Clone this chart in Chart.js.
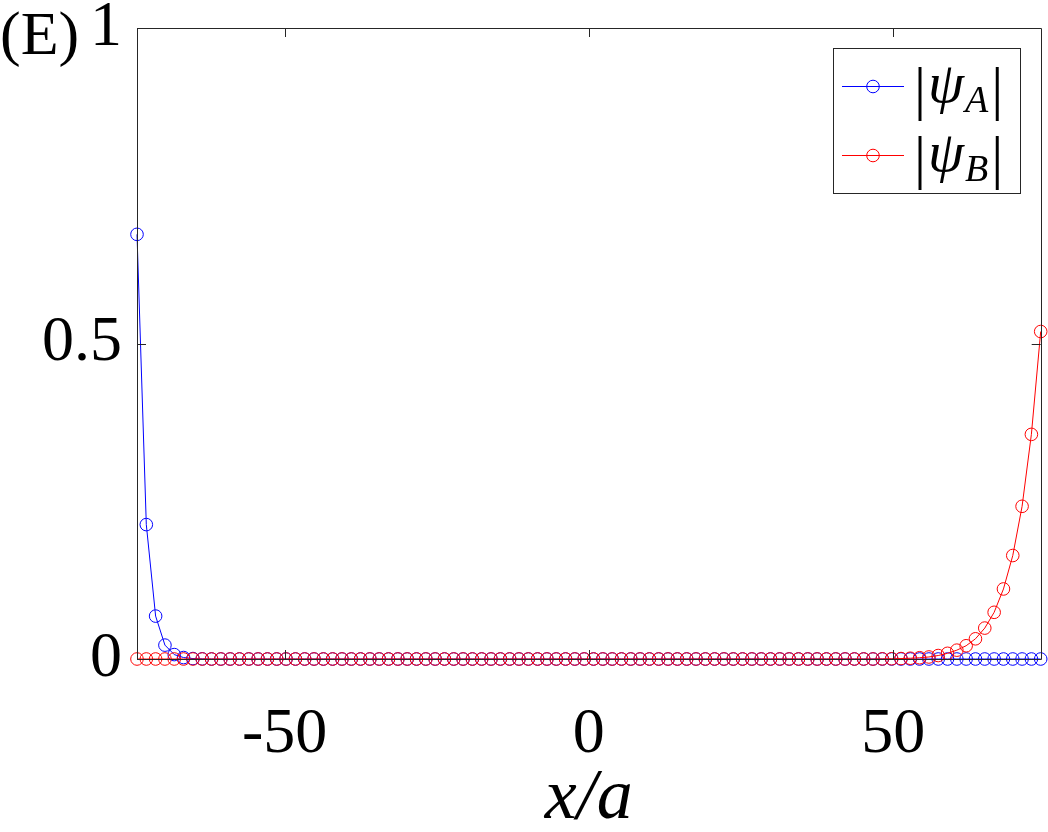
<!DOCTYPE html>
<html>
<head>
<meta charset="utf-8">
<script src="https://cdn.jsdelivr.net/npm/chart.js@4/dist/chart.umd.min.js"></script>
<style>
  html, body { margin: 0; padding: 0; background: #ffffff; }
  #wrap { width: 1048px; height: 832px; }
</style>
</head>
<body>
<div id="wrap"><canvas id="c" width="1048" height="832"></canvas></div>
<script>
// ---- data ----
const xPositions = [
  -74.25, -72.72, -71.19, -69.66, -68.13, -66.60, -65.06, -63.53, -62.00, -60.47,
  -58.94, -57.41, -55.88, -54.35, -52.82, -51.29, -49.76, -48.22, -46.69, -45.16,
  -43.63, -42.10, -40.57, -39.04, -37.51, -35.98, -34.45, -32.92, -31.38, -29.85,
  -28.32, -26.79, -25.26, -23.73, -22.20, -20.67, -19.14, -17.61, -16.08, -14.54,
  -13.01, -11.48, -9.95, -8.42, -6.89, -5.36, -3.83, -2.30, -0.77, 0.77,
  2.30, 3.83, 5.36, 6.89, 8.42, 9.95, 11.48, 13.01, 14.54, 16.08,
  17.61, 19.14, 20.67, 22.20, 23.73, 25.26, 26.79, 28.32, 29.85, 31.38,
  32.92, 34.45, 35.98, 37.51, 39.04, 40.57, 42.10, 43.63, 45.16, 46.69,
  48.22, 49.76, 51.29, 52.82, 54.35, 55.88, 57.41, 58.94, 60.47, 62.00,
  63.53, 65.06, 66.60, 68.13, 69.66, 71.19, 72.72, 74.25
];
const psiA = [
  0.673, 0.213, 0.068, 0.022, 0.007, 0.0023, 0.0007, 0.0002, 0, 0,
  0, 0, 0, 0, 0, 0, 0, 0, 0, 0,
  0, 0, 0, 0, 0, 0, 0, 0, 0, 0,
  0, 0, 0, 0, 0, 0, 0, 0, 0, 0,
  0, 0, 0, 0, 0, 0, 0, 0, 0, 0,
  0, 0, 0, 0, 0, 0, 0, 0, 0, 0,
  0, 0, 0, 0, 0, 0, 0, 0, 0, 0,
  0, 0, 0, 0, 0, 0, 0, 0, 0, 0,
  0, 0, 0, 0, 0, 0, 0, 0, 0, 0,
  0, 0, 0, 0, 0, 0, 0, 0
];
const psiB = [
  0, 0, 0, 0, 0, 0, 0, 0, 0, 0,
  0, 0, 0, 0, 0, 0, 0, 0, 0, 0,
  0, 0, 0, 0, 0, 0, 0, 0, 0, 0,
  0, 0, 0, 0, 0, 0, 0, 0, 0, 0,
  0, 0, 0, 0, 0, 0, 0, 0, 0, 0,
  0, 0, 0, 0, 0, 0, 0, 0, 0, 0,
  0, 0, 0, 0, 0, 0, 0, 0, 0, 0,
  0, 0, 0, 0, 0, 0, 0, 0, 0, 0,
  0.0002, 0.0004, 0.0007, 0.0012, 0.002, 0.0032, 0.0055, 0.009, 0.014, 0.021,
  0.032, 0.049, 0.074, 0.111, 0.164, 0.242, 0.356, 0.519
];
const xTickValues = [-50, 0, 50];
const yTickValues = [0, 0.5, 1];
const xRange = [-74.25, 74.25];
const yRange = [0, 1];
const seriesLabels = ['A', 'B'];
const panelLabel = '(E)';
const xTitle = 'x/a';

// ---- styling ----
const BLUE = '#0000ff';
const RED = '#ff0000';
const AXIS = '#262626';
const FONT = "'Liberation Serif', 'DejaVu Serif', serif";

function pts(ys) { return xPositions.map((x, i) => ({ x: x, y: ys[i] })); }
function fmt(v) { return v === 0.5 ? '0.5' : String(v); }

const framePlugin = {
  id: 'frame',
  afterDraw(chart) {
    const ctx = chart.ctx;
    const a = chart.chartArea;
    const xs = chart.scales.x, ys = chart.scales.y;
    ctx.save();
    ctx.strokeStyle = AXIS;
    ctx.lineWidth = 1;
    ctx.beginPath();
    ctx.rect(Math.round(a.left) + 0.5, Math.round(a.top) + 0.5, Math.round(a.right - a.left), Math.round(a.bottom - a.top));
    ctx.stroke();
    const tl = 9;
    ctx.beginPath();
    xTickValues.forEach(v => {
      const px = Math.round(xs.getPixelForValue(v)) + 0.5;
      ctx.moveTo(px, a.bottom); ctx.lineTo(px, a.bottom - tl);
      ctx.moveTo(px, a.top); ctx.lineTo(px, a.top + tl);
    });
    yTickValues.forEach(v => {
      const py = Math.round(ys.getPixelForValue(v)) + 0.5;
      ctx.moveTo(a.left, py); ctx.lineTo(a.left + tl, py);
      ctx.moveTo(a.right, py); ctx.lineTo(a.right - tl, py);
    });
    ctx.stroke();

    // panel label
    ctx.fillStyle = '#000';
    ctx.font = '62px ' + FONT;
    ctx.textBaseline = 'alphabetic';
    ctx.textAlign = 'left';
    ctx.fillText(panelLabel, 0, 54);

    // legend box
    const lx = 833.5, ly = 48.5, lw = 187, lh = 145;
    ctx.fillStyle = '#fff';
    ctx.fillRect(lx, ly, lw, lh);
    ctx.strokeStyle = AXIS;
    ctx.lineWidth = 1;
    ctx.strokeRect(lx, ly, lw, lh);
    const rows = [86, 155];
    chart.data.datasets.forEach((ds, i) => {
      const y = rows[i];
      ctx.strokeStyle = ds.borderColor;
      ctx.lineWidth = 1;
      ctx.beginPath();
      ctx.moveTo(842, y + 0.5); ctx.lineTo(904, y + 0.5);
      ctx.stroke();
      ctx.beginPath();
      ctx.arc(873, y + 0.5, 6.3, 0, Math.PI * 2);
      ctx.stroke();
      ctx.fillStyle = '#000';
      ctx.textBaseline = 'alphabetic';
      let x = 914;
      const base = y + 16;
      ctx.font = '60px ' + FONT;
      ctx.fillText('|', x, base + 6);
      x += ctx.measureText('|').width + 2;
      ctx.font = 'italic 58px ' + FONT;
      ctx.fillText('ψ', x, base);
      x += ctx.measureText('ψ').width + 1;
      ctx.font = 'italic 38px ' + FONT;
      ctx.fillText(seriesLabels[i], x, base + 10);
      x += ctx.measureText(seriesLabels[i]).width + 3;
      ctx.font = '60px ' + FONT;
      ctx.fillText('|', x, base + 6);
    });
    ctx.restore();
  }
};

new Chart(document.getElementById('c'), {
  type: 'line',
  data: {
    datasets: [
      {
        label: '|ψA|', data: pts(psiA),
        borderColor: BLUE, borderWidth: 1,
        pointRadius: 6.3, pointBorderWidth: 1,
        pointBorderColor: BLUE, pointBackgroundColor: 'rgba(0,0,0,0)',
        fill: false, tension: 0, order: 1
      },
      {
        label: '|ψB|', data: pts(psiB),
        borderColor: RED, borderWidth: 1,
        pointRadius: 6.3, pointBorderWidth: 1,
        pointBorderColor: RED, pointBackgroundColor: 'rgba(0,0,0,0)',
        fill: false, tension: 0, order: 0
      }
    ]
  },
  options: {
    responsive: false,
    animation: false,
    devicePixelRatio: 1,
    clip: false,
    layout: { padding: { left: 0, right: 6, top: 28, bottom: 0 } },
    plugins: { legend: { display: false }, tooltip: { enabled: false } },
    scales: {
      x: {
        type: 'linear', min: xRange[0], max: xRange[1],
        grid: { display: false, drawTicks: false },
        border: { display: false },
        afterBuildTicks: s => { s.ticks = xTickValues.map(v => ({ value: v })); },
        afterFit: s => { s.height = 173; s.paddingLeft = 0; s.paddingRight = 0; },
        ticks: {
          font: { family: FONT, size: 64 }, color: '#000', padding: 38,
          maxRotation: 0, autoSkip: false, callback: v => String(v)
        },
        title: {
          display: true, text: xTitle, color: '#000',
          font: { family: FONT, size: 72, style: 'italic' },
          padding: { top: 0, bottom: -10 }
        }
      },
      y: {
        type: 'linear', min: yRange[0], max: yRange[1],
        grid: { display: false, drawTicks: false },
        border: { display: false },
        afterBuildTicks: s => { s.ticks = yTickValues.map(v => ({ value: v })); },
        afterFit: s => { s.width = 137; s.paddingTop = 0; s.paddingBottom = 0; },
        ticks: {
          font: { family: FONT, size: 64 }, color: '#000', padding: 15,
          callback: v => fmt(v)
        }
      }
    }
  },
  plugins: [framePlugin]
});
</script>
</body>
</html>
